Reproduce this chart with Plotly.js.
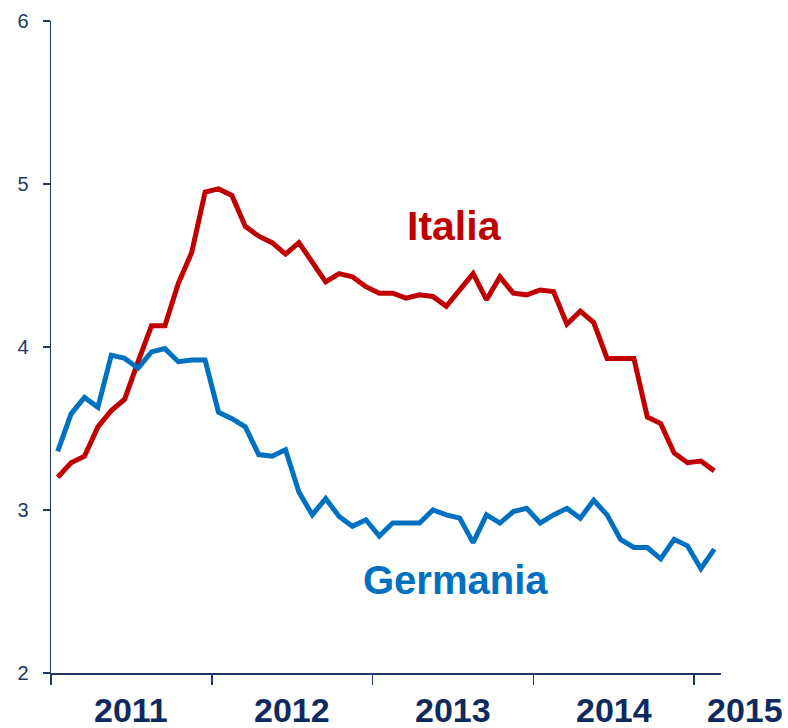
<!DOCTYPE html>
<html>
<head>
<meta charset="utf-8">
<script src="https://cdn.plot.ly/plotly-3.0.1.min.js"></script>
<style>html,body{margin:0;padding:0;background:#fff;}#chart{width:788px;height:728px;}</style>
</head>
<body>
<div id="chart"></div>
<script>
// Monthly observations, Jan 2011 .. Feb 2015
const months = ["2011-01","2011-02","2011-03","2011-04","2011-05","2011-06","2011-07","2011-08","2011-09","2011-10","2011-11","2011-12",
"2012-01","2012-02","2012-03","2012-04","2012-05","2012-06","2012-07","2012-08","2012-09","2012-10","2012-11","2012-12",
"2013-01","2013-02","2013-03","2013-04","2013-05","2013-06","2013-07","2013-08","2013-09","2013-10","2013-11","2013-12",
"2014-01","2014-02","2014-03","2014-04","2014-05","2014-06","2014-07","2014-08","2014-09","2014-10","2014-11","2014-12",
"2015-01","2015-02"];
const italia = [3.20,3.29,3.33,3.51,3.61,3.68,3.91,4.13,4.13,4.39,4.58,4.95,
4.97,4.93,4.74,4.68,4.64,4.57,4.64,4.52,4.40,4.45,4.43,4.37,
4.33,4.33,4.30,4.32,4.31,4.25,4.35,4.45,4.29,4.43,4.33,4.32,
4.35,4.34,4.14,4.22,4.15,3.93,3.93,3.93,3.57,3.53,3.35,3.29,
3.30,3.24];
const germania = [3.36,3.59,3.69,3.63,3.95,3.93,3.87,3.97,3.99,3.91,3.92,3.92,
3.60,3.56,3.51,3.34,3.33,3.37,3.11,2.97,3.07,2.96,2.90,2.94,
2.84,2.92,2.92,2.92,3.00,2.97,2.95,2.80,2.97,2.92,2.99,3.01,
2.92,2.97,3.01,2.95,3.06,2.97,2.82,2.77,2.77,2.70,2.82,2.78,
2.64,2.76];
const yearLabels = ["2011","2012","2013","2014","2015"];
const yTicks = [2,3,4,5,6];

const xIdx = months.map((m,i)=>i+0.5);
const nMonths = months.length;
const navy = "#1F3864";
const labelNavy = "#0E2A5E";
const bigFont = "'Liberation Sans Narrow','Arial Narrow','Liberation Sans',Arial,sans-serif";

const traces = [
  {x:xIdx, y:italia, type:"scatter", mode:"lines", name:"Italia",
   line:{color:"#C00000", width:5, shape:"linear"}, hoverinfo:"skip", cliponaxis:false},
  {x:xIdx, y:germania, type:"scatter", mode:"lines", name:"Germania",
   line:{color:"#0070C0", width:5, shape:"linear"}, hoverinfo:"skip", cliponaxis:false}
];

// year labels centred under each year span (last one beyond the axis end)
const yearPos = [6,18,30,42,51.8];
const annotations = yearLabels.map((t,i)=>({
  x:yearPos[i]/nMonths, y:-0.056, xref:"paper", yref:"paper", text:"<b>"+t+"</b>", showarrow:false,
  xanchor:"center", yanchor:"middle",
  font:{family:bigFont, size:34, color:labelNavy}
}));
annotations.push({x:30.1, y:4.742, xref:"x", yref:"y", text:"<b>Italia</b>", showarrow:false,
  xanchor:"center", yanchor:"middle", font:{family:bigFont, size:41, color:"#C00000"}});
annotations.push({x:30.2, y:2.57, xref:"x", yref:"y", text:"<b>Germania</b>", showarrow:false,
  xanchor:"center", yanchor:"middle", font:{family:bigFont, size:40, color:"#0070C0"}});

const layout = {
  width:788, height:728,
  margin:{l:51, r:67, t:21, b:55, pad:0},
  paper_bgcolor:"#fff", plot_bgcolor:"#fff",
  showlegend:false,
  xaxis:{range:[0,nMonths], showgrid:false, zeroline:false, showline:true, linecolor:navy, linewidth:1.5,
    tickmode:"array", tickvals:[0,12,24,36,48], ticks:"outside", ticklen:10, tickwidth:1.5, tickcolor:navy,
    showticklabels:false, fixedrange:true},
  yaxis:{range:[2,6], showgrid:false, zeroline:false, showline:true, linecolor:navy, linewidth:1.5,
    tickmode:"array", tickvals:yTicks, ticktext:yTicks.map(String), ticks:"outside", ticklen:7, tickwidth:1.5, tickcolor:navy,
    ticklabelstandoff:10,
    tickfont:{family:"'Liberation Sans','Noto Sans',sans-serif", size:20, color:navy}, fixedrange:true},
  annotations:annotations
};

Plotly.newPlot("chart", traces, layout, {staticPlot:true, displayModeBar:false});
</script>
</body>
</html>
